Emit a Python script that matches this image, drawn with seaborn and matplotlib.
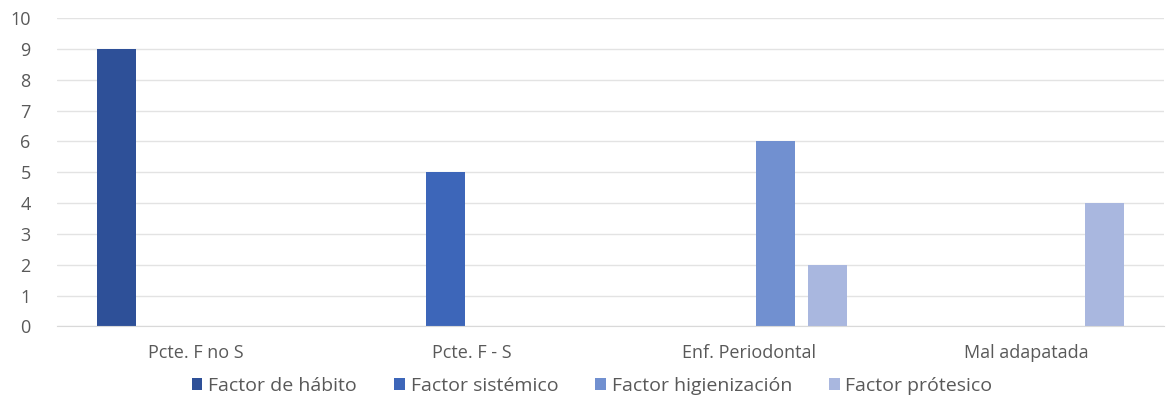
import matplotlib
matplotlib.use("Agg")
import matplotlib.pyplot as plt
import seaborn as sns
import pandas as pd

categories = ["Pcte. F no S", "Pcte. F - S", "Enf. Periodontal", "Mal adapatada"]
series = ["Factor de hábito", "Factor sistémico", "Factor higienización", "Factor prótesico"]
habito = [9, 0, 0, 0]
sistemico = [0, 5, 0, 0]
higienizacion = [0, 0, 6, 0]
protesico = [0, 0, 2, 4]
colors = ["#2E5098", "#3D66B9", "#7190D0", "#A9B7DF"]

rows = []
for name, vals in zip(series, [habito, sistemico, higienizacion, protesico]):
    for cat, v in zip(categories, vals):
        rows.append({"Categoría": cat, "Serie": name, "Valor": v})
df = pd.DataFrame(rows)

sns.set_style("white")
plt.rcParams["font.family"] = ["Open Sans", "DejaVu Sans"]

fig = plt.figure(figsize=(11.68, 4.03), dpi=100)
ax = fig.add_axes([0.0488, 0.19, 0.948, 0.765])

sns.barplot(data=df, x="Categoría", y="Valor", hue="Serie", hue_order=series,
            order=categories, palette=colors, width=0.76, gap=0.26,
            saturation=1, linewidth=0, ax=ax, legend=True)

ax.set_ylim(0, 10)
ax.set_xlim(-0.5, 3.5)
ax.set_yticks(range(0, 11))
ax.yaxis.grid(True, color="#E3E3E3", linewidth=1)
ax.set_axisbelow(True)
for s in ["top", "right", "left"]:
    ax.spines[s].set_visible(False)
ax.spines["bottom"].set_color("#D9D9D9")
ax.tick_params(axis="both", length=0, labelsize=13, labelcolor="#595959")
ax.tick_params(axis="y", pad=19)
ax.tick_params(axis="x", pad=13)
ax.set_xlabel("")
ax.set_ylabel("")

handles, labels = ax.get_legend_handles_labels()
ax.legend_.remove()
fig.legend(handles, labels, loc="center", bbox_to_anchor=(0.507, 0.043), ncol=4,
           frameon=False, fontsize=14, labelcolor="#595959",
           handlelength=0.55, handleheight=0.55, handletextpad=0.3, columnspacing=1.9)

fig.savefig("out.png", dpi=100)
